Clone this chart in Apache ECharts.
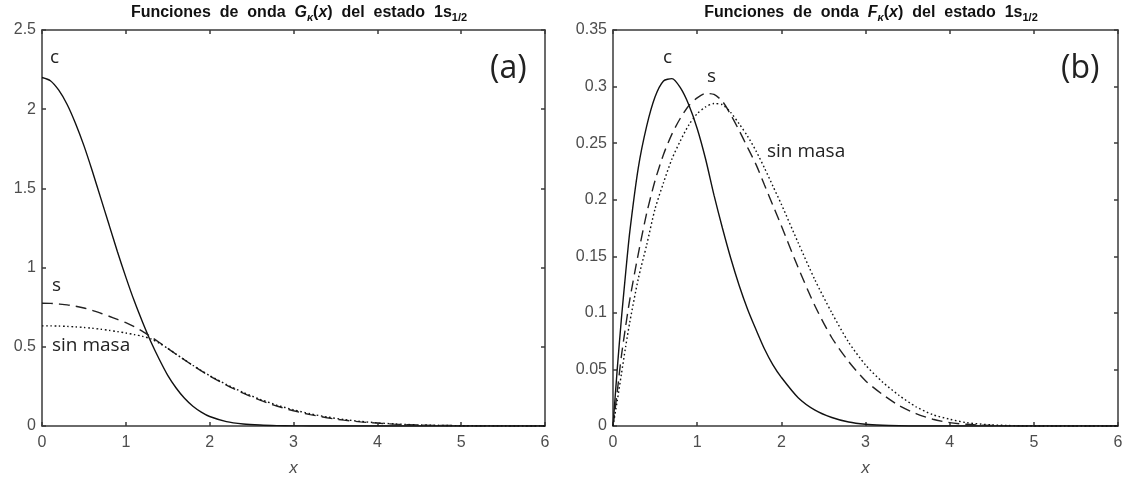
<!DOCTYPE html>
<html>
<head>
<meta charset="utf-8">
<script src="https://cdn.jsdelivr.net/npm/echarts@6/dist/echarts.min.js"></script>
<style>
html,body{margin:0;padding:0;background:#fff;}
#c{width:1131px;height:484px;}
</style>
</head>
<body>
<div id="c"></div>
<script>
// ---- data ----
var xTicks = [0, 1, 2, 3, 4, 5, 6];
var gYTicks = [0, 0.5, 1, 1.5, 2, 2.5];
var fYTicks = [0, 0.05, 0.1, 0.15, 0.2, 0.25, 0.3, 0.35];

// panel (a): G_kappa(x)
var gX = [0,0.1,0.2,0.3,0.4,0.5,0.6,0.7,0.8,0.9,1.0,1.1,1.2,1.3,1.4,1.5,1.6,1.7,1.8,1.9,2.0,
          2.2,2.4,2.6,2.8,3.0,3.2,3.4,3.6,3.8,4.0,4.2,4.5,5.0,5.5,6.0];
var gC = [2.20,2.18,2.12,2.03,1.91,1.77,1.61,1.44,1.27,1.10,0.94,0.79,0.655,0.53,0.42,0.32,0.24,0.175,0.125,0.088,0.06,
          0.028,0.013,0.006,0.0025,0.001,0.0004,0.0001,0,0,0,0,0,0,0,0];
var gS = [0.775,0.774,0.770,0.765,0.756,0.745,0.730,0.712,0.693,0.673,0.652,0.627,0.598,0.563,0.527,0.490,0.453,0.417,0.382,0.348,0.316,
          0.258,0.207,0.163,0.126,0.096,0.072,0.052,0.037,0.026,0.018,0.012,0.006,0.002,0.0005,0];
var gM = [0.632,0.632,0.631,0.629,0.626,0.622,0.617,0.611,0.604,0.596,0.587,0.577,0.566,0.550,0.522,0.490,0.454,0.418,0.383,0.350,0.318,
          0.262,0.212,0.169,0.132,0.102,0.077,0.057,0.041,0.029,0.020,0.013,0.007,0.002,0.0005,0];

// panel (b): F_kappa(x)
var fX = [0,0.05,0.1,0.15,0.2,0.3,0.4,0.5,0.6,0.7,0.8,0.9,1.0,1.1,1.2,1.3,1.4,1.5,1.6,1.7,1.8,1.9,2.0,
          2.2,2.4,2.6,2.8,3.0,3.2,3.4,3.6,3.8,4.0,4.2,4.5,5.0,5.5,6.0];
var fC = [0,0.05,0.095,0.135,0.172,0.228,0.265,0.291,0.305,0.307,0.299,0.284,0.263,0.236,0.204,0.175,0.148,0.124,0.103,0.085,0.068,0.054,0.043,
          0.025,0.014,0.0075,0.0035,0.0015,0.0006,0.0002,0,0,0,0,0,0,0,0];
var fS = [0,0.03,0.062,0.088,0.112,0.152,0.188,0.217,0.240,0.258,0.272,0.283,0.290,0.294,0.293,0.287,0.275,0.261,0.246,0.231,0.213,0.195,0.177,
          0.140,0.106,0.078,0.057,0.040,0.028,0.018,0.011,0.006,0.003,0.0015,0.0005,0,0,0];
var fM = [0,0.022,0.046,0.07,0.092,0.130,0.160,0.192,0.215,0.236,0.252,0.266,0.276,0.282,0.285,0.284,0.277,0.267,0.256,0.243,0.228,0.212,0.196,
          0.162,0.129,0.100,0.074,0.054,0.039,0.027,0.017,0.010,0.006,0.003,0.001,0,0,0];

var curveLabels = ['c', 's', 'sin masa'];
var panelTags = ['(a)', '(b)'];

function zip(xs, ys){ return xs.map(function(x,i){ return [x, ys[i]]; }); }

var chart = echarts.init(document.getElementById('c'), null, {renderer:'canvas'});
var axisColor = '#3a3a3a';
var labelColor = '#4d4d4d';
var font = '"Liberation Sans", Arial, sans-serif';
var noteFont = '"Open Sans", "Noto Sans", sans-serif';

function xAxes(gi){
  return [{
    type:'value', gridIndex:gi, min:0, max:6, interval:1, position:'bottom',
    axisLine:{show:true, onZero:false, lineStyle:{color:axisColor, width:1.5}},
    axisTick:{show:true, inside:true, length:4, lineStyle:{color:axisColor, width:1.5}},
    axisLabel:{color:labelColor, fontSize:16, fontFamily:font, margin:9},
    splitLine:{show:false},
    name:'x', nameLocation:'middle', nameGap:34,
    nameTextStyle:{color:labelColor, fontSize:17, fontStyle:'italic', fontFamily:font}
  },{
    type:'value', gridIndex:gi, min:0, max:6, interval:1, position:'top',
    axisLine:{show:true, onZero:false, lineStyle:{color:axisColor, width:1.5}},
    axisTick:{show:true, inside:true, length:4, lineStyle:{color:axisColor, width:1.5}},
    axisLabel:{show:false}, splitLine:{show:false}
  }];
}
function yAxes(gi, max, interval){
  return [{
    type:'value', gridIndex:gi, min:0, max:max, interval:interval, position:'left',
    axisLine:{show:true, onZero:false, lineStyle:{color:axisColor, width:1.5}},
    axisTick:{show:true, inside:true, length:4, lineStyle:{color:axisColor, width:1.5}},
    axisLabel:{color:labelColor, fontSize:16, fontFamily:font, margin:6},
    splitLine:{show:false}
  },{
    type:'value', gridIndex:gi, min:0, max:max, interval:interval, position:'right',
    axisLine:{show:true, onZero:false, lineStyle:{color:axisColor, width:1.5}},
    axisTick:{show:true, inside:true, length:4, lineStyle:{color:axisColor, width:1.5}},
    axisLabel:{show:false}, splitLine:{show:false}
  }];
}

function line(xi, yi, xs, ys, type){
  var ls = {color:'#111', width:1.4, type:'solid'};
  if (type === 'dashed') { ls.type = [11,6]; ls.color='#222'; }
  if (type === 'dotted') { ls.type = [1.6,2.6]; ls.color='#111'; }
  return {type:'line', xAxisIndex:xi, yAxisIndex:yi, data:zip(xs, ys), showSymbol:false,
          smooth:0.25, lineStyle:ls, silent:true, animation:false, z:3};
}

var titleRich = {
  b:{fontWeight:'bold', fontSize:16, fontFamily:font, color:'#111', lineHeight:20},
  bi:{fontWeight:'bold', fontStyle:'italic', fontSize:16, fontFamily:font, color:'#111', lineHeight:20},
  sk:{fontWeight:'bold', fontStyle:'italic', fontSize:11, fontFamily:font, color:'#111', verticalAlign:'bottom', lineHeight:14, padding:[6,0,0,0]},
  sub:{fontWeight:'bold', fontSize:11, fontFamily:font, color:'#111', verticalAlign:'bottom', lineHeight:14, padding:[6,0,0,0]}
};
function titleText(letter){
  return '{b|Funciones  de  onda  }{bi|' + letter + '}{sk|κ}{b|(}{bi|x}{b|)  del  estado  1s}{sub|1/2}';
}

function note(text, x, y, size){
  return {type:'text', left:x, top:y, silent:true,
    style:{text:text, fill:'#222', font:(size||19)+'px ' + noteFont}};
}

var option = {
  backgroundColor:'#fff',
  animation:false,
  title:[
    {text:titleText('G'), left:294, top:-2, textAlign:'center', textStyle:{rich:titleRich}},
    {text:titleText('F'), left:866, top:-2, textAlign:'center', textStyle:{rich:titleRich}}
  ],
  grid:[
    {left:42, right:586, top:30, bottom:58, containLabel:false},
    {left:613, right:13, top:30, bottom:58, containLabel:false}
  ],
  xAxis: xAxes(0).concat(xAxes(1)),
  yAxis: yAxes(0, 2.5, 0.5).concat(yAxes(1, 0.35, 0.05)),
  series:[
    line(0,0,gX,gC,'solid'),
    line(0,0,gX,gS,'dashed'),
    line(0,0,gX,gM,'dotted'),
    line(2,2,fX,fC,'solid'),
    line(2,2,fX,fS,'dashed'),
    line(2,2,fX,fM,'dotted')
  ],
  graphic:[
    note(curveLabels[0], 50, 48),
    note(curveLabels[1], 52, 276),
    note(curveLabels[2], 52, 336),
    note(panelTags[0], 490, 53, 32),
    note(curveLabels[0], 663, 48),
    note(curveLabels[1], 707, 67),
    note(curveLabels[2], 767, 142),
    note(panelTags[1], 1061, 53, 32)
  ]
};
chart.setOption(option);
</script>
</body>
</html>
